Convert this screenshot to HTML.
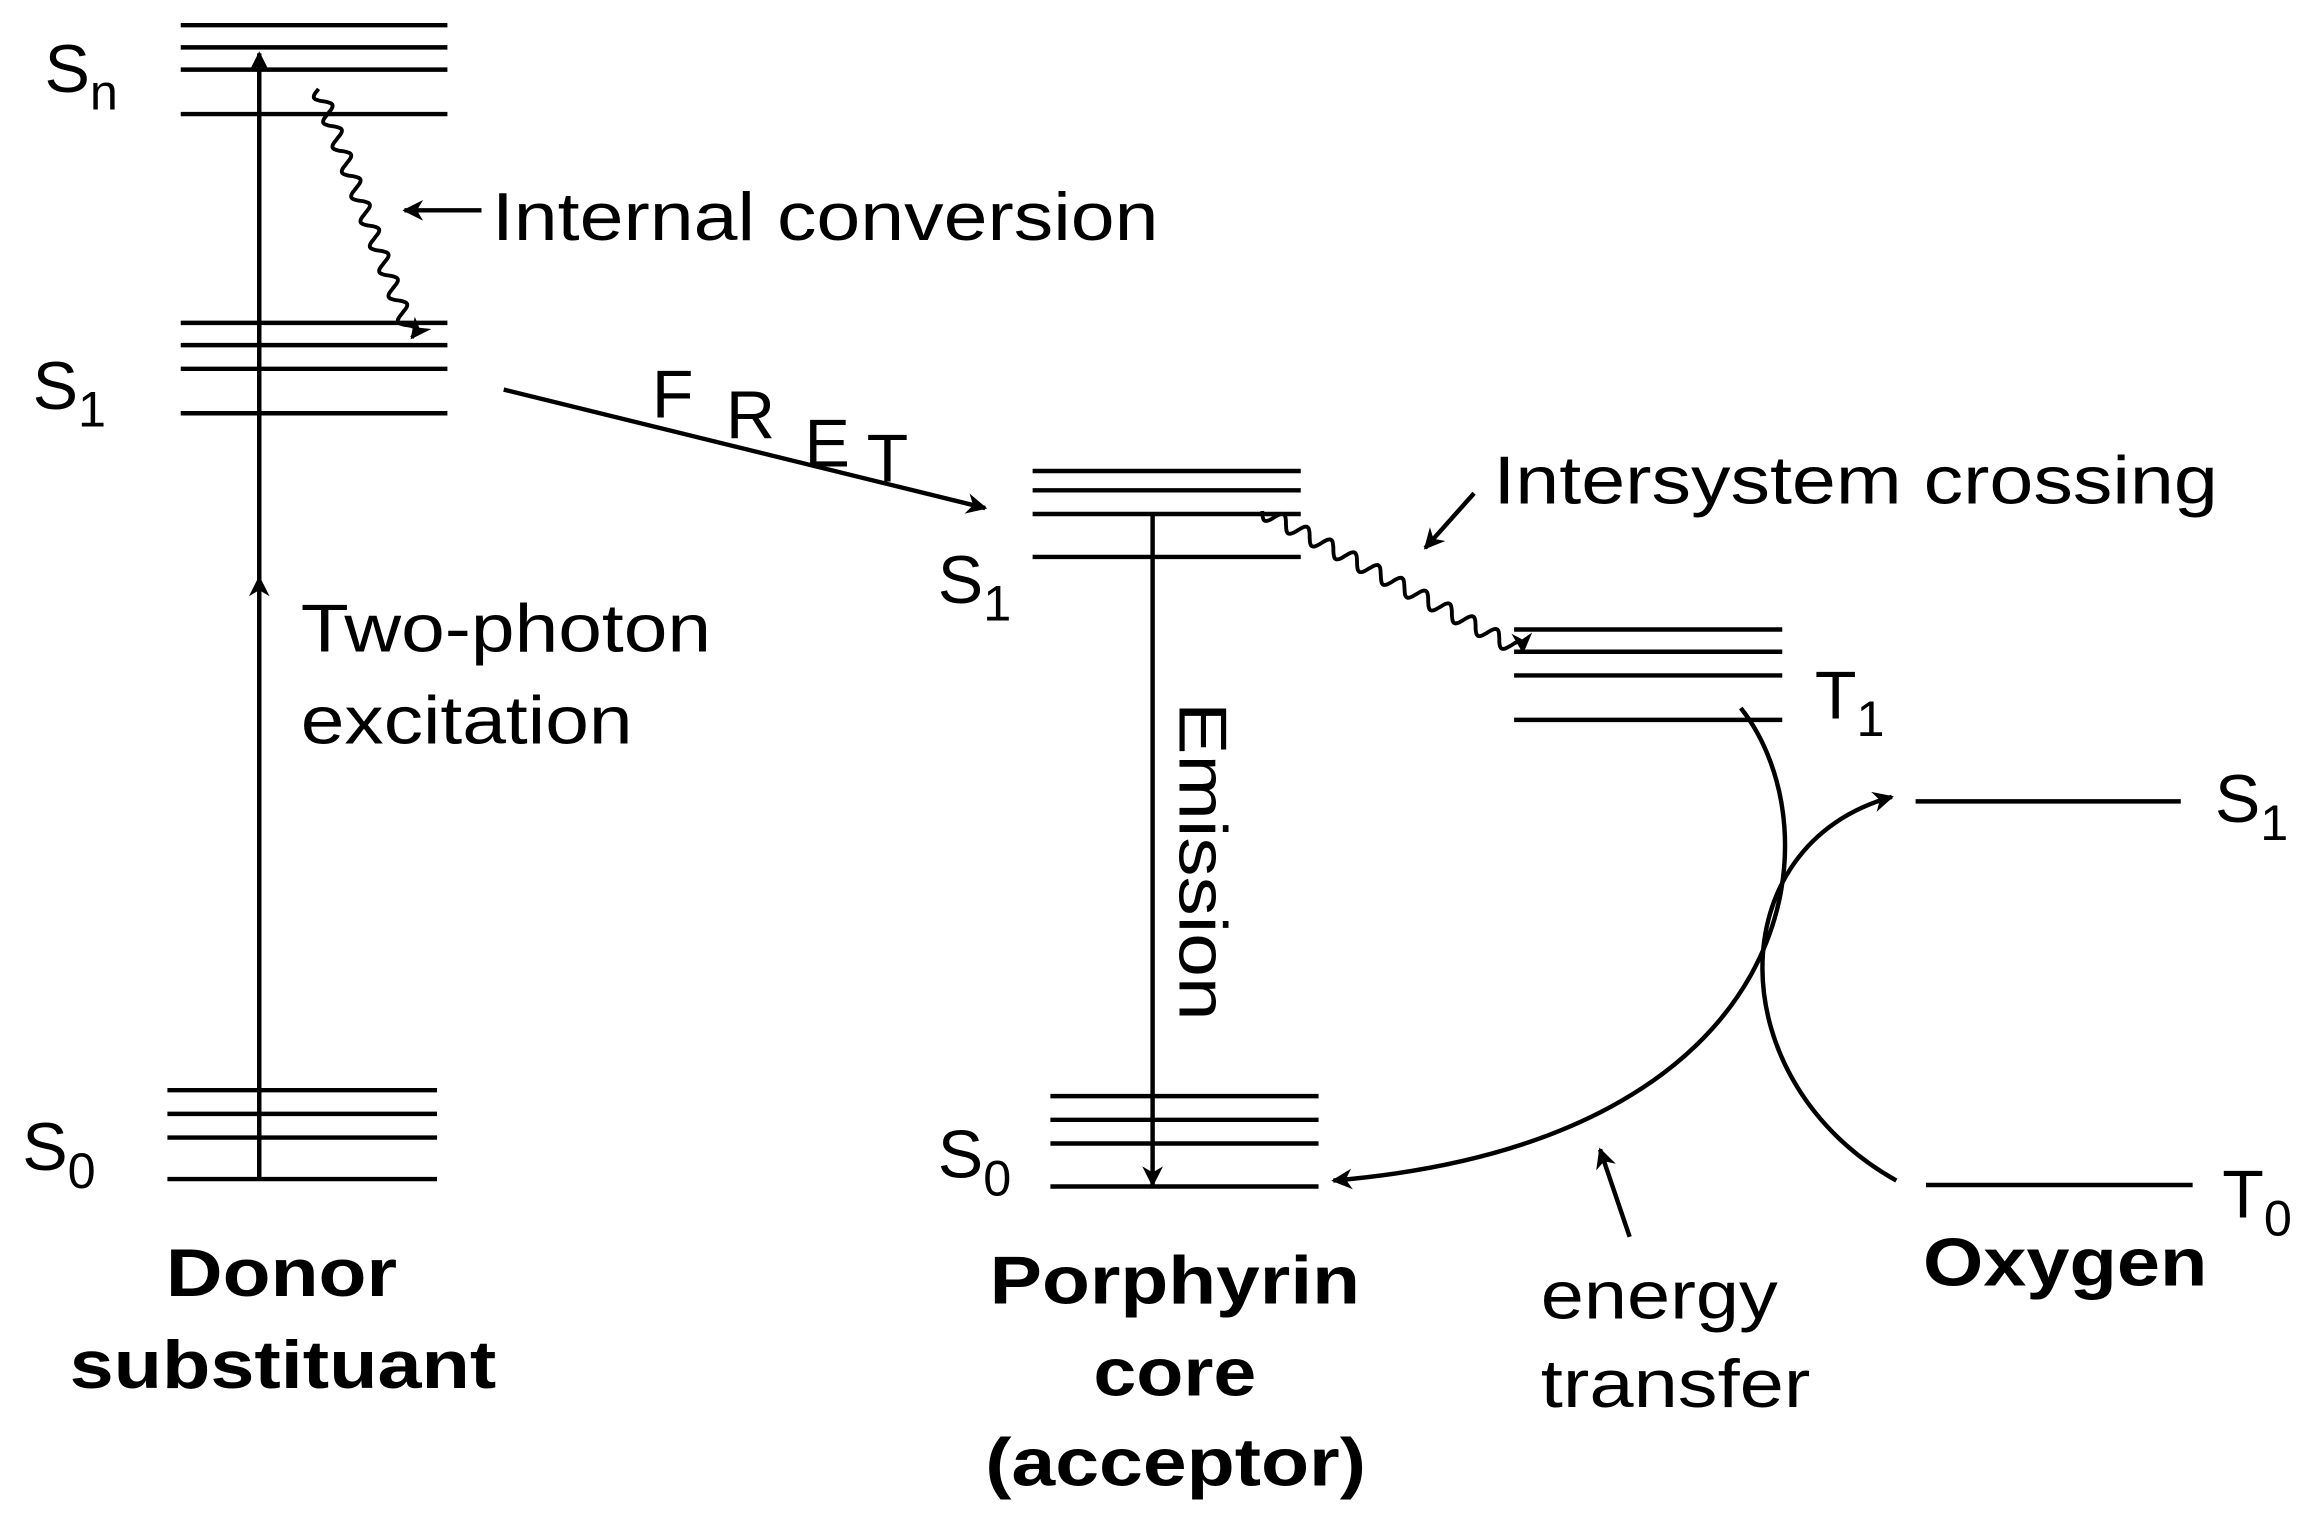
<!DOCTYPE html>
<html><head><meta charset="utf-8"><style>
html,body{margin:0;padding:0;background:#fff;}
svg{display:block;}
text{font-family:"Liberation Sans",Arial,sans-serif;fill:#000;}
</style></head><body>
<svg id="s" width="2323" height="1539" viewBox="0 0 1568 1039" preserveAspectRatio="none" xmlns="http://www.w3.org/2000/svg">
<defs>
<marker id="ahb" viewBox="0 0 10 10" refX="9" refY="5" markerWidth="22" markerHeight="14" markerUnits="userSpaceOnUse" orient="auto">
<path d="M0,0 L10,5 L0,10 L3,5 z" fill="#000"/></marker>
</defs>
<g stroke="#000" stroke-width="3" fill="none">
<line x1="122" y1="17" x2="302" y2="17"/><line x1="122" y1="32" x2="302" y2="32"/><line x1="122" y1="47" x2="302" y2="47"/><line x1="122" y1="77" x2="302" y2="77"/>
<line x1="122" y1="218" x2="302" y2="218"/><line x1="122" y1="233" x2="302" y2="233"/><line x1="122" y1="249" x2="302" y2="249"/><line x1="122" y1="279" x2="302" y2="279"/>
<line x1="113" y1="736" x2="295" y2="736"/><line x1="113" y1="752" x2="295" y2="752"/><line x1="113" y1="768" x2="295" y2="768"/><line x1="113" y1="796" x2="295" y2="796"/>
<line x1="175" y1="796" x2="175" y2="390" marker-end="url(#ahb)"/>
<line x1="175" y1="392" x2="175" y2="36" marker-end="url(#ahb)"/>
<line x1="325" y1="142" x2="273" y2="142" marker-end="url(#ahb)"/>
<line x1="340" y1="263" x2="665" y2="343" marker-end="url(#ahb)"/>
<line x1="697" y1="318" x2="878" y2="318"/><line x1="697" y1="331" x2="878" y2="331"/><line x1="697" y1="347" x2="878" y2="347"/><line x1="697" y1="376" x2="878" y2="376"/>
<line x1="709" y1="740" x2="890" y2="740"/><line x1="709" y1="756" x2="890" y2="756"/><line x1="709" y1="772" x2="890" y2="772"/><line x1="709" y1="801" x2="890" y2="801"/>
<line x1="778" y1="347" x2="778" y2="800" marker-end="url(#ahb)"/>
<line x1="995" y1="333" x2="962" y2="370" marker-end="url(#ahb)"/>
<line x1="1022" y1="425" x2="1203" y2="425"/><line x1="1022" y1="440" x2="1203" y2="440"/><line x1="1022" y1="456" x2="1203" y2="456"/><line x1="1022" y1="486" x2="1203" y2="486"/>
<line x1="1293" y1="541" x2="1472" y2="541"/>
<line x1="1300" y1="800" x2="1480" y2="800"/>
<path d="M1175,478 C1240,560 1220,770 900,797" marker-end="url(#ahb)"/>
<path d="M1280,797 C1160,730 1160,570 1277,538" marker-end="url(#ahb)"/>
<line x1="1100" y1="835" x2="1080" y2="776" marker-end="url(#ahb)"/>
<path id="w1" stroke-width="2.6"/>
<path id="w2" stroke-width="2.6"/>
</g>
<g font-size="46">
<text x="30" y="62">S<tspan font-size="34" dy="12">n</tspan></text>
<text x="22" y="276">S<tspan font-size="34" dy="12">1</tspan></text>
<text x="15" y="790">S<tspan font-size="34" dy="12">0</tspan></text>
<text x="332" y="162" textLength="450" lengthAdjust="spacingAndGlyphs">Internal conversion</text>
<text x="203" y="440" textLength="277" lengthAdjust="spacingAndGlyphs">Two-photon</text>
<text x="203" y="502" textLength="224" lengthAdjust="spacingAndGlyphs">excitation</text>
<text x="440" y="282">F</text><text x="490" y="296">R</text><text x="543" y="315">E</text><text x="585" y="325">T</text>
<text x="633" y="407">S<tspan font-size="34" dy="12">1</tspan></text>
<text x="633" y="795">S<tspan font-size="34" dy="12">0</tspan></text>
<text transform="translate(796,474) rotate(90)" textLength="215" lengthAdjust="spacingAndGlyphs">Emission</text>
<text x="1008" y="340" textLength="489" lengthAdjust="spacingAndGlyphs">Intersystem crossing</text>
<text x="1225" y="485">T<tspan font-size="34" dy="12">1</tspan></text>
<text x="1495" y="555">S<tspan font-size="34" dy="12">1</tspan></text>
<text x="1500" y="822">T<tspan font-size="34" dy="12">0</tspan></text>
<text x="1040" y="890" textLength="160" lengthAdjust="spacingAndGlyphs">energy</text>
<text x="1040" y="950" textLength="182" lengthAdjust="spacingAndGlyphs">transfer</text>
</g>
<g font-size="46" font-weight="bold">
<text x="112" y="875" textLength="156" lengthAdjust="spacingAndGlyphs">Donor</text>
<text x="47" y="937" textLength="288" lengthAdjust="spacingAndGlyphs">substituant</text>
<text x="668" y="880" textLength="250" lengthAdjust="spacingAndGlyphs">Porphyrin</text>
<text x="738" y="942" textLength="110" lengthAdjust="spacingAndGlyphs">core</text>
<text x="665" y="1003" textLength="257" lengthAdjust="spacingAndGlyphs">(acceptor)</text>
<text x="1298" y="868" textLength="192" lengthAdjust="spacingAndGlyphs">Oxygen</text>
</g>
</svg>
<script>
function wave(id,x0,y0,x1,y1,n,a){
 var dx=x1-x0,dy=y1-y0,L=Math.hypot(dx,dy),ux=dx/L,uy=dy/L,px=-uy,py=ux,d="";
 for(var i=0;i<=240;i++){var t=i/240,s=a*Math.sin(t*n*2*Math.PI),x=x0+dx*t+px*s,y=y0+dy*t+py*s;d+=(i?"L":"M")+x.toFixed(1)+","+y.toFixed(1);}
 var e=document.getElementById(id);e.setAttribute("d",d);e.setAttribute("marker-end","url(#ahb)");
}
wave("w1",215,60,278,228,10,5);
wave("w2",852,345,1028,440,11,5);
</script>
</body></html>
